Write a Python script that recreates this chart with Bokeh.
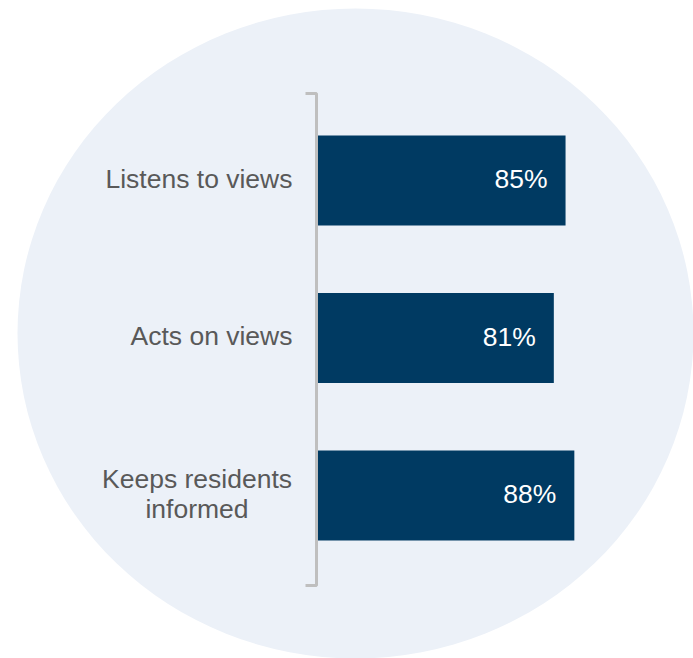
from bokeh.plotting import figure
from bokeh.models import Range1d, ColumnDataSource
from bokeh.embed import file_html
from bokeh.resources import INLINE
from bokeh.core.properties import value

categories = ["Listens to views", "Acts on views", "Keeps residents\ninformed"]
values = [85, 81, 88]
value_labels = ["85%", "81%", "88%"]

BAR_COLOR = "#003A62"
TEXT_GRAY = "#595959"
CIRCLE_FILL = "#ECF1F8"
BRACKET = "#BFBFBF"
FONT = "Liberation Sans"

W, H = 693, 658
PX_PER_PCT = 2.93
X0_PX = 316
ROW_PX = 157.5
FIRST_ROW_PX = 180

pos = list(range(len(categories)))

p = figure(width=W, height=H, output_backend="svg", toolbar_location=None,
           x_range=Range1d(-X0_PX / PX_PER_PCT, (W - X0_PX) / PX_PER_PCT),
           y_range=Range1d((H - FIRST_ROW_PX) / ROW_PX, -FIRST_ROW_PX / ROW_PX),
           min_border=0, border_fill_color="white", background_fill_color="white",
           outline_line_color=None)
p.axis.visible = False
p.grid.visible = False

# background circle
p.ellipse(x=[(355 - X0_PX) / PX_PER_PCT], y=[(333 - FIRST_ROW_PX) / ROW_PX],
          width=676, height=650, width_units="screen", height_units="screen",
          fill_color=CIRCLE_FILL, line_color=None)

src = ColumnDataSource(dict(y=pos, v=values, lab=value_labels, cat=categories))

# bars
p.hbar(y="y", left=0, right="v", height=90 / ROW_PX, source=src,
       fill_color=BAR_COLOR, line_color=None)

# bracket axis
top = pos[0] - 0.552
bot = pos[-1] + 0.571
tick = 11 / PX_PER_PCT
p.line(x=[-tick, 0, 0, -tick], y=[top, top, bot, bot], line_color=BRACKET, line_width=3)

# value labels
p.text(x="v", y="y", text="lab", source=src, x_offset=-18, y_offset=-1.5,
       text_align="right", text_baseline="middle", text_color="white",
       text_font=value(FONT), text_font_size="26.5px")

# category labels
single = [i for i, c in enumerate(categories) if "\n" not in c]
multi = [i for i, c in enumerate(categories) if "\n" in c]
p.text(x=[0] * len(single), y=[pos[i] for i in single], text=[categories[i] for i in single],
       x_offset=-24, y_offset=-2, text_align="right", text_baseline="middle", text_color=TEXT_GRAY,
       text_font=value(FONT), text_font_size="26.5px")
p.text(x=[0] * len(multi), y=[pos[i] for i in multi], text=[categories[i] for i in multi],
       x_offset=-119.5, y_offset=-1.5, text_align="center", text_baseline="middle", text_color=TEXT_GRAY,
       text_font=value(FONT), text_font_size="26.5px", text_line_height=1.0)

open("out.html", "w").write(file_html(p, INLINE))
